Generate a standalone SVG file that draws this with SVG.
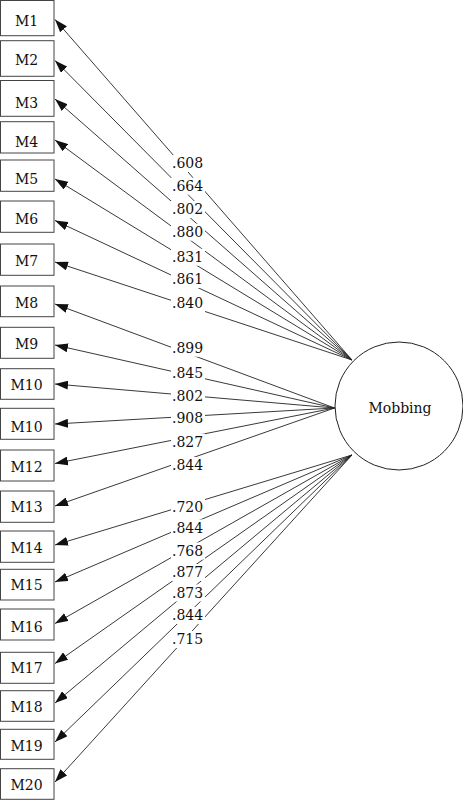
<svg xmlns="http://www.w3.org/2000/svg" width="463" height="800" viewBox="0 0 463 800">
<defs>
<style>
.box{fill:#fff;stroke:#444;stroke-width:1}
.t{font-family:"DejaVu Serif",serif;font-size:14px;fill:#111}
.bt{text-anchor:middle}
.ln{stroke:#222;stroke-width:0.9;fill:none;marker-end:url(#ah)}
.mask{fill:#fff}
</style>
<marker id="ah" markerUnits="userSpaceOnUse" viewBox="0 -4.5 13 9" refX="13" refY="0" markerWidth="13" markerHeight="9" orient="auto">
<path d="M0,-4.5 L13,0 L0,4.5 z" fill="#111"/>
</marker>
</defs>
<rect width="463" height="800" fill="#fff"/>
<g id="connectors">
<line class="ln" x1="352" y1="360" x2="55" y2="19.5"/>
<line class="ln" x1="352" y1="360" x2="55" y2="60.5"/>
<line class="ln" x1="352" y1="360" x2="55" y2="99"/>
<line class="ln" x1="352" y1="360" x2="55" y2="140"/>
<line class="ln" x1="352" y1="360" x2="55" y2="179"/>
<line class="ln" x1="352" y1="360" x2="55" y2="220.5"/>
<line class="ln" x1="352" y1="360" x2="55" y2="262"/>
<line class="ln" x1="334.5" y1="408" x2="55" y2="304"/>
<line class="ln" x1="334.5" y1="408" x2="55" y2="345"/>
<line class="ln" x1="334.5" y1="408" x2="55" y2="384"/>
<line class="ln" x1="334.5" y1="408" x2="55" y2="424"/>
<line class="ln" x1="334.5" y1="408" x2="55" y2="463.5"/>
<line class="ln" x1="334.5" y1="408" x2="55" y2="506"/>
<line class="ln" x1="352" y1="455" x2="55" y2="545"/>
<line class="ln" x1="352" y1="455" x2="55" y2="582"/>
<line class="ln" x1="352" y1="455" x2="55" y2="623.5"/>
<line class="ln" x1="352" y1="455" x2="55" y2="663.5"/>
<line class="ln" x1="352" y1="455" x2="55" y2="703"/>
<line class="ln" x1="352" y1="455" x2="55" y2="742"/>
<line class="ln" x1="352" y1="455" x2="55" y2="782"/>
</g>
<g id="labels">
<rect class="mask" x="171" y="155" width="34" height="17"/><text class="t" x="172" y="168">.608</text>
<rect class="mask" x="171" y="177.7" width="34" height="17"/><text class="t" x="172" y="190.7">.664</text>
<rect class="mask" x="171" y="201" width="34" height="17"/><text class="t" x="172" y="214">.802</text>
<rect class="mask" x="171" y="223.7" width="34" height="17"/><text class="t" x="172" y="236.7">.880</text>
<rect class="mask" x="171" y="248.7" width="34" height="17"/><text class="t" x="172" y="261.7">.831</text>
<rect class="mask" x="171" y="271" width="34" height="17"/><text class="t" x="172" y="284">.861</text>
<rect class="mask" x="171" y="295" width="34" height="17"/><text class="t" x="172" y="308">.840</text>
<rect class="mask" x="171" y="339.7" width="34" height="17"/><text class="t" x="172" y="352.7">.899</text>
<rect class="mask" x="171" y="365" width="34" height="17"/><text class="t" x="172" y="378">.845</text>
<rect class="mask" x="171" y="388" width="34" height="17"/><text class="t" x="172" y="401">.802</text>
<rect class="mask" x="171" y="410.3" width="34" height="17"/><text class="t" x="172" y="423.3">.908</text>
<rect class="mask" x="171" y="433.7" width="34" height="17"/><text class="t" x="172" y="446.7">.827</text>
<rect class="mask" x="171" y="457" width="34" height="17"/><text class="t" x="172" y="470">.844</text>
<rect class="mask" x="171" y="499" width="34" height="17"/><text class="t" x="172" y="512">.720</text>
<rect class="mask" x="171" y="519.5" width="34" height="17"/><text class="t" x="172" y="532.5">.844</text>
<rect class="mask" x="171" y="542.5" width="34" height="17"/><text class="t" x="172" y="555.5">.768</text>
<rect class="mask" x="171" y="564" width="34" height="17"/><text class="t" x="172" y="577">.877</text>
<rect class="mask" x="171" y="584.5" width="34" height="17"/><text class="t" x="172" y="597.5">.873</text>
<rect class="mask" x="171" y="607" width="34" height="17"/><text class="t" x="172" y="620">.844</text>
<rect class="mask" x="171" y="631" width="34" height="17"/><text class="t" x="172" y="644">.715</text>
</g>
<g id="M1"><rect class="box" x="0.5" y="0.5" width="53.5" height="35.2"/><text class="t bt" x="26.5" y="26">M1</text></g>
<g id="M2"><rect class="box" x="0.5" y="40.7" width="53.5" height="35.6"/><text class="t bt" x="26.5" y="65">M2</text></g>
<g id="M3"><rect class="box" x="0.5" y="80.5" width="53.5" height="35.8"/><text class="t bt" x="26.5" y="108">M3</text></g>
<g id="M4"><rect class="box" x="0.5" y="121.7" width="53.5" height="31.3"/><text class="t bt" x="26.5" y="146.5">M4</text></g>
<g id="M5"><rect class="box" x="0.5" y="160" width="53.5" height="31.3"/><text class="t bt" x="26.5" y="183.5">M5</text></g>
<g id="M6"><rect class="box" x="0.5" y="201" width="53.5" height="31.3"/><text class="t bt" x="26.5" y="224">M6</text></g>
<g id="M7"><rect class="box" x="0.5" y="244" width="53.5" height="31.3"/><text class="t bt" x="26.5" y="266">M7</text></g>
<g id="M8"><rect class="box" x="0.5" y="286" width="53.5" height="30.7"/><text class="t bt" x="26.5" y="308">M8</text></g>
<g id="M9"><rect class="box" x="0.5" y="327.3" width="53.5" height="31"/><text class="t bt" x="26.5" y="349">M9</text></g>
<g id="M10"><rect class="box" x="0.5" y="368.7" width="53.5" height="30.6"/><text class="t bt" x="26.5" y="390">M10</text></g>
<g id="M10b"><rect class="box" x="0.5" y="408.3" width="53.5" height="31"/><text class="t bt" x="26.5" y="431.5">M10</text></g>
<g id="M12"><rect class="box" x="0.5" y="450" width="53.5" height="31"/><text class="t bt" x="26.5" y="471.5">M12</text></g>
<g id="M13"><rect class="box" x="0.5" y="491" width="53.5" height="31.3"/><text class="t bt" x="26.5" y="512">M13</text></g>
<g id="M14"><rect class="box" x="0.5" y="531" width="53.5" height="31.3"/><text class="t bt" x="26.5" y="553">M14</text></g>
<g id="M15"><rect class="box" x="0.5" y="569.3" width="53.5" height="30.7"/><text class="t bt" x="26.5" y="590">M15</text></g>
<g id="M16"><rect class="box" x="0.5" y="609" width="53.5" height="31"/><text class="t bt" x="26.5" y="632">M16</text></g>
<g id="M17"><rect class="box" x="0.5" y="652.3" width="53.5" height="31"/><text class="t bt" x="26.5" y="672.5">M17</text></g>
<g id="M18"><rect class="box" x="0.5" y="690.7" width="53.5" height="30.6"/><text class="t bt" x="26.5" y="711.5">M18</text></g>
<g id="M19"><rect class="box" x="0.5" y="729.3" width="53.5" height="30"/><text class="t bt" x="26.5" y="750.5">M19</text></g>
<g id="M20"><rect class="box" x="0.5" y="768.7" width="53.5" height="30.6"/><text class="t bt" x="26.5" y="790">M20</text></g>
<g id="Mobbing"><circle cx="399" cy="406" r="64" fill="#fff" stroke="#222" stroke-width="1"/><text class="t bt" x="400" y="413">Mobbing</text></g>
</svg>
